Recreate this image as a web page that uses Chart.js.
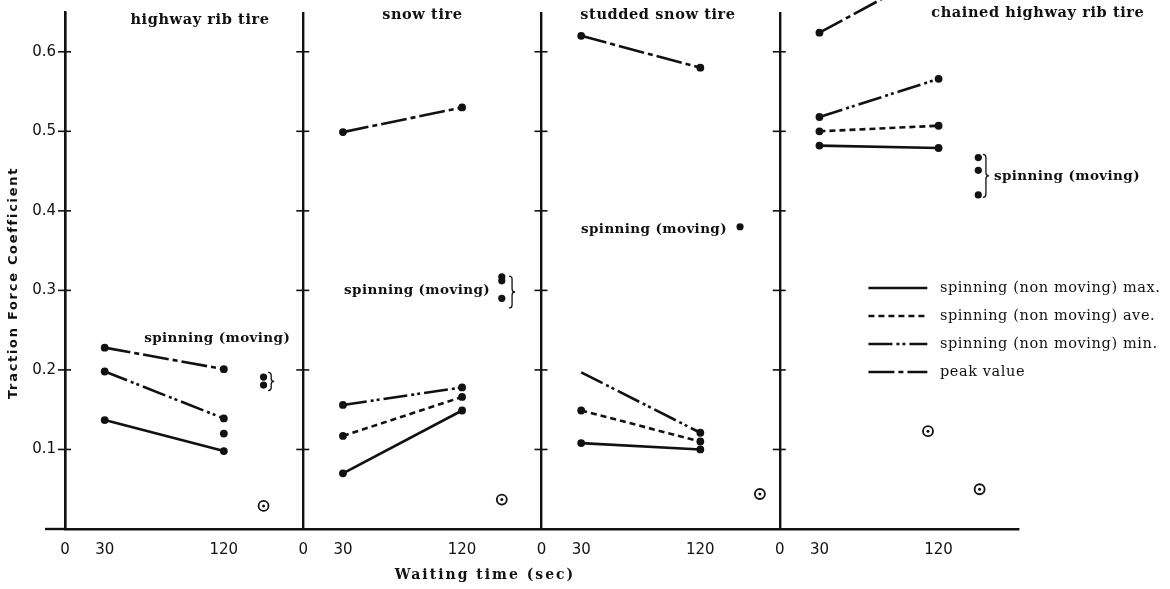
<!DOCTYPE html>
<html>
<head>
<meta charset="utf-8">
<script src="https://cdn.jsdelivr.net/npm/chart.js@4.4.1/dist/chart.umd.min.js"></script>
<style>
  html, body { margin: 0; padding: 0; background: #fff; }
  #wrap { width: 1170px; height: 589px; }
</style>
</head>
<body>
<div id="wrap"><canvas id="tractionChart"></canvas></div>
<script>
// Data (traction force coefficient vs waiting time)
const panelNames = ['highway rib tire', 'snow tire', 'studded snow tire', 'chained highway rib tire'];
const panelSpan = 180; // seconds covered by each panel on the shared x axis
const waitTimes = [30, 120];
const xTickTimes = [0, 30, 120];
const xTickLabels = ['0', '30', '120'];
const yTickValues = [0.1, 0.2, 0.3, 0.4, 0.5, 0.6];
const yTickLabels = ['0.1', '0.2', '0.3', '0.4', '0.5', '0.6'];

// spinning (non moving) max / ave / min and peak value, one pair per panel (30 s, 120 s)
const maxValues  = [[0.137, 0.098], [0.070, 0.149], [0.108, 0.100], [0.482, 0.479]];
const aveValues  = [[null, 0.120], [0.117, 0.166], [0.149, 0.110], [0.500, 0.507]];
const minValues  = [[0.198, 0.139], [0.156, 0.178], [0.197, 0.121], [0.518, 0.566]];
const peakValues = [[0.228, 0.201], [0.499, 0.530], [0.620, 0.580], [0.624, 0.705]];

// spinning (moving) values
const movingTimes  = [[150, 150], [150, 150, 150], [150], [150, 150, 150]];
const movingValues = [[0.191, 0.181], [0.317, 0.312, 0.290], [0.380], [0.467, 0.451, 0.420]];

// circled points
const circledTimes  = [[150], [150], [165], [112, 151]];
const circledValues = [[0.029], [0.037], [0.044], [0.123, 0.050]];

// ---- styles ----
const INK = '#111';
const seriesStyles = [
  { name: 'spinning (non moving) max.', values: maxValues, dash: [] },
  { name: 'spinning (non moving) ave.', values: aveValues, dash: [6, 4] },
  { name: 'spinning (non moving) min.', values: minValues, dash: [24, 4, 3, 3, 3, 4] },
  { name: 'peak value', values: peakValues, dash: [26, 4, 5, 4] }
];
// the min line of the studded tire starts without a dot
const hideFirstDot = { 'spinning (non moving) min.': [false, false, true, false] };

const serif = '"DejaVu Serif", serif';
const sans = '"DejaVu Sans", sans-serif';

const datasets = [];
seriesStyles.forEach(s => {
  s.values.forEach((pair, p) => {
    const hide = hideFirstDot[s.name] && hideFirstDot[s.name][p];
    datasets.push({
      label: s.name,
      data: pair.map((v, i) => ({ x: p * panelSpan + waitTimes[i], y: v })),
      borderColor: INK, backgroundColor: INK,
      borderWidth: 2.6, borderDash: s.dash,
      pointRadius: pair.map((v, i) => (i === 0 && hide) ? 0 : 3.9),
      pointBackgroundColor: INK, pointBorderWidth: 0,
      clip: false, order: 1
    });
  });
});
movingValues.forEach((vals, p) => {
  datasets.push({
    label: 'spinning (moving)', showLine: false,
    data: vals.map((v, i) => ({ x: p * panelSpan + movingTimes[p][i], y: v })),
    pointRadius: 3.6, pointBackgroundColor: INK, pointBorderWidth: 0, order: 1
  });
});
circledValues.forEach((vals, p) => {
  const pts = vals.map((v, i) => ({ x: p * panelSpan + circledTimes[p][i], y: v }));
  datasets.push({
    label: 'circled centre', showLine: false, data: pts,
    pointRadius: 1.5, pointBackgroundColor: INK, pointBorderWidth: 0, order: 0
  });
  datasets.push({
    label: 'circled ring', showLine: false, data: pts,
    pointRadius: 5, pointBackgroundColor: '#fff', pointBorderColor: INK, pointBorderWidth: 1.8, order: 2
  });
});

// text placed on the figure (x in shared seconds, y in coefficient units)
const panelTitlePos = [[102, 0.640], [270, 0.646], [448, 0.646], [735, 0.649]];
const movingNotes = [[115, 0.240], [266, 0.300], [445, 0.377], [757, 0.443]];
const braces = [[153.5, 0.197, 0.174], [335.5, 0.318, 0.278], [693.5, 0.471, 0.417]];
const legendPos = { x0: 607, x1: 651.5, tx: 661, y: 0.303, step: 0.0352 };

function spacedText(ctx, text, x, y, font, align, spacing) {
  ctx.save();
  ctx.font = font;
  ctx.fillStyle = INK;
  ctx.textAlign = align;
  ctx.textBaseline = 'middle';
  ctx.letterSpacing = spacing + 'px';
  ctx.fillText(text, x, y);
  ctx.restore();
}

function drawBrace(ctx, x, yTop, yBot) {
  const mid = (yTop + yBot) / 2;
  ctx.beginPath();
  ctx.moveTo(x, yTop);
  ctx.quadraticCurveTo(x + 3, yTop, x + 3, yTop + 3);
  ctx.lineTo(x + 3, mid - 3);
  ctx.quadraticCurveTo(x + 3, mid, x + 6, mid);
  ctx.quadraticCurveTo(x + 3, mid, x + 3, mid + 3);
  ctx.lineTo(x + 3, yBot - 3);
  ctx.quadraticCurveTo(x + 3, yBot, x, yBot);
  ctx.stroke();
}

const figureExtras = {
  id: 'figureExtras',
  afterDraw(chart) {
    const ctx = chart.ctx;
    const xs = chart.scales.x, ys = chart.scales.y;
    const area = chart.chartArea;
    ctx.save();
    ctx.strokeStyle = INK;

    // baseline runs a little past the first panel axis
    ctx.lineWidth = 2.4;
    ctx.beginPath();
    ctx.moveTo(area.left - 20, area.bottom);
    ctx.lineTo(area.left, area.bottom);
    ctx.stroke();

    // cross ticks on every panel axis
    ctx.lineWidth = 1.6;
    for (let p = 0; p < panelNames.length; p++) {
      const px = xs.getPixelForValue(p * panelSpan);
      yTickValues.forEach(v => {
        const py = ys.getPixelForValue(v);
        ctx.beginPath();
        ctx.moveTo(px - 7, py);
        ctx.lineTo(px + 6, py);
        ctx.stroke();
      });
    }

    // panel titles and notes
    panelNames.forEach((name, p) => {
      spacedText(ctx, name, xs.getPixelForValue(panelTitlePos[p][0]), ys.getPixelForValue(panelTitlePos[p][1]),
        'bold 14.5px ' + serif, 'center', 0.6);
      spacedText(ctx, 'spinning (moving)', xs.getPixelForValue(movingNotes[p][0]), ys.getPixelForValue(movingNotes[p][1]),
        'bold 13.5px ' + serif, 'center', 0.4);
    });

    ctx.lineWidth = 1.3;
    braces.forEach(b => drawBrace(ctx, xs.getPixelForValue(b[0]), ys.getPixelForValue(b[1]), ys.getPixelForValue(b[2])));

    // legend
    seriesStyles.forEach((s, i) => {
      const py = ys.getPixelForValue(legendPos.y - i * legendPos.step);
      ctx.save();
      ctx.lineWidth = 2.6;
      ctx.setLineDash(s.dash);
      ctx.beginPath();
      ctx.moveTo(xs.getPixelForValue(legendPos.x0), py);
      ctx.lineTo(xs.getPixelForValue(legendPos.x1), py);
      ctx.stroke();
      ctx.restore();
      spacedText(ctx, s.name, xs.getPixelForValue(legendPos.tx), py, '14.5px ' + serif, 'left', 0.6);
    });

    // axis titles
    spacedText(ctx, 'Waiting time (sec)', 485, 575, 'bold 14px ' + serif, 'center', 2);
    ctx.save();
    ctx.translate(14, 283);
    ctx.rotate(-Math.PI / 2);
    spacedText(ctx, 'Traction Force Coefficient', 0, 0, 'bold 13px ' + sans, 'center', 1.7);
    ctx.restore();

    ctx.restore();
  }
};

new Chart(document.getElementById('tractionChart'), {
  type: 'line',
  data: { datasets },
  options: {
    responsive: true,
    maintainAspectRatio: false,
    animation: false,
    layout: { padding: { top: 12, right: 152, bottom: 0, left: 0 } },
    plugins: { legend: { display: false }, tooltip: { enabled: false } },
    scales: {
      x: {
        type: 'linear', min: 0, max: panelNames.length * panelSpan,
        afterBuildTicks: scale => {
          scale.ticks = [];
          for (let p = 0; p < panelNames.length; p++) {
            xTickTimes.forEach(t => scale.ticks.push({ value: p * panelSpan + t }));
          }
        },
        afterFit: scale => { scale.height = 60; scale.paddingLeft = 0; scale.paddingRight = 0; },
        ticks: {
          callback: v => xTickLabels[xTickTimes.indexOf(v % panelSpan)],
          color: INK, font: { family: sans, size: 15 }, padding: 12, maxRotation: 0, autoSkip: false
        },
        grid: {
          drawTicks: false, lineWidth: 2.4,
          color: c => (c.tick && c.tick.value % panelSpan === 0) ? INK : 'rgba(0,0,0,0)'
        },
        border: { display: true, color: INK, width: 2.4 }
      },
      y: {
        type: 'linear', min: 0, max: 0.65,
        afterBuildTicks: scale => { scale.ticks = yTickValues.map(v => ({ value: v })); },
        afterFit: scale => { scale.width = 65; scale.paddingTop = 0; scale.paddingBottom = 0; },
        ticks: {
          callback: v => yTickLabels[yTickValues.indexOf(v)],
          color: INK, font: { family: sans, size: 15 }, padding: 9
        },
        grid: { display: false, drawTicks: false },
        border: { display: true, color: INK, width: 2.4 }
      }
    }
  },
  plugins: [figureExtras]
});
</script>
</body>
</html>
